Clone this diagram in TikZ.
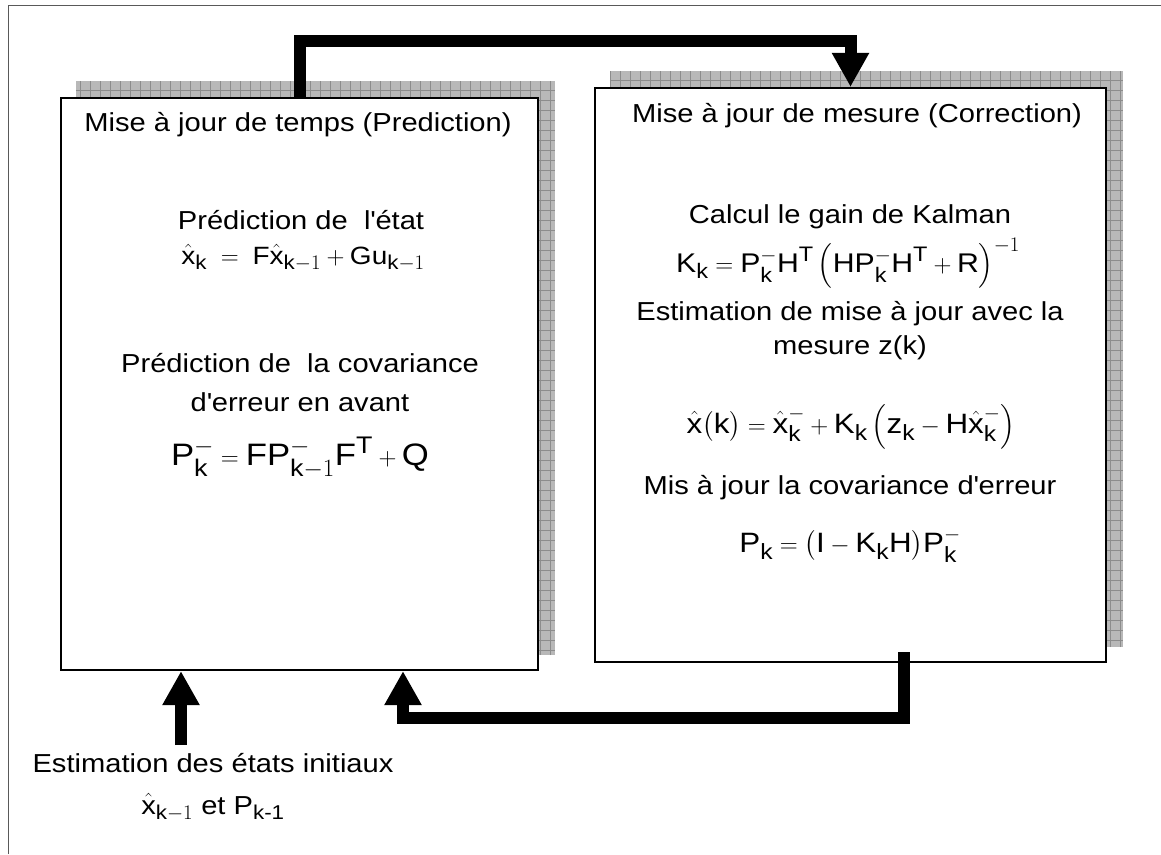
\documentclass[tikz,border=0pt]{standalone}
\usepackage{amsmath}
\usepackage{fontspec}
\setmainfont{Liberation Sans}[FakeStretch=1.12]
\usetikzlibrary{arrows.meta}
\newcommand\sv[1]{\text{#1}}
\newcommand\ap{\textquotesingle}
% larger sub- and superscripts in the formulas
\DeclareMathSizes{24}{24}{19}{15}
\DeclareMathSizes{25}{25}{20}{16}
\DeclareMathSizes{26}{26}{20}{16}
\DeclareMathSizes{27}{27}{21}{17}
\DeclareMathSizes{28}{28}{22}{17}
\DeclareMathSizes{31}{31}{24}{19}

\tikzset{
  frame/.style={draw=black!65, line width=1pt},
  box/.style={draw=black, line width=2.2pt, fill=white, inner sep=0pt},
  shadowfill/.style={fill=black!28},
  shadowgrid/.style={draw=black!45, line width=0.8pt},
  flow/.style={line width=12pt, draw=black, line join=miter,
    -{Triangle[width=35pt,length=34pt]}},
  lbl/.style={anchor=base, inner sep=0pt, font=\fontsize{26}{30}\selectfont},
  eqn/.style={anchor=base, inner sep=0pt, font=\fontsize{#1}{#1}\selectfont},
  eqn/.default=26
}

\begin{document}
\begin{tikzpicture}[x=1pt, y=-1pt]
\useasboundingbox (0,0) rectangle (1161,854);

% page frame (only its left and top sides fall inside the picture)
\draw[frame] (8,854) -- (8,5) -- (1161,5);

% the two update boxes
\path (299.5,384) node[box, minimum width=477pt, minimum height=572pt, draw=none, fill=none] (pred) {};
\path (850.5,375) node[box, minimum width=511pt, minimum height=574pt, draw=none, fill=none] (corr) {};

% textured drop shadows
\foreach \b in {pred, corr} {
  \begin{scope}
    \clip ([shift={(16,-16)}]\b.south west) rectangle ([shift={(16,-16)}]\b.north east);
    \fill[shadowfill] ([shift={(16,-16)}]\b.south west) rectangle ([shift={(16,-16)}]\b.north east);
    \draw[shadowgrid] ([shift={(16,-16)}]\b.south west) grid[step=10pt] ([shift={(16,-16)}]\b.north east);
  \end{scope}
}

% box frames over the shadows
\node[box, minimum width=477pt, minimum height=572pt] at (pred) {};
\node[box, minimum width=511pt, minimum height=574pt] at (corr) {};

% prediction step
\node[lbl] (tA) at (298,131) {Mise à jour de temps (Prediction)};
\node[lbl] (tB) at (301,229) {Prédiction de\ \ l\ap état};
\node[eqn=25] (eqA) at (303,264)
  {$\hat{\sv{x}}_{\sv{k}} \;=\; \sv{F}\hat{\sv{x}}_{\sv{k}-1} + \sv{Gu}_{\sv{k}-1}$};
\node[lbl] (tC) at (300,372) {Prédiction de\ \ la covariance};
\node[lbl] (tD) at (300,411) {d\ap erreur en avant};
\node[eqn=31] (eqB) at (300,465)
  {$\sv{P}_{\sv{k}}^{-} = \sv{FP}_{\sv{k}-1}^{-}\sv{F}^{\sv{T}} + \sv{Q}$};

% correction step
\node[lbl] (tE) at (857,122) {Mise à jour de mesure (Correction)};
\node[lbl] (tF) at (850,223) {Calcul le gain de Kalman};
\node[eqn=27] (eqC) at (848,272)
  {$\sv{K}_{\sv{k}} = \sv{P}_{\sv{k}}^{-}\sv{H}^{\sv{T}}\left(\sv{HP}_{\sv{k}}^{-}\sv{H}^{\sv{T}} + \sv{R}\right)^{-1}$};
\node[lbl] (tG) at (850,320) {Estimation de mise à jour avec la};
\node[lbl] (tH) at (850,354) {mesure z(k)};
\node[eqn=28] (eqD) at (851,433)
  {$\hat{\sv{x}}\bigl(\sv{k}\bigr) = \hat{\sv{x}}_{\sv{k}}^{-} + \sv{K}_{\sv{k}}\left(\sv{z}_{\sv{k}} - \sv{H}\hat{\sv{x}}_{\sv{k}}^{-}\right)$};
\node[lbl] (tI) at (850,494) {Mis à jour la covariance d\ap erreur};
\node[eqn=28] (eqE) at (850,552)
  {$\sv{P}_{\sv{k}} = \bigl(\sv{I} - \sv{K}_{\sv{k}}\sv{H}\bigr)\sv{P}_{\sv{k}}^{-}$};

% initial estimate
\node[lbl] (tJ) at (213,772) {Estimation des états initiaux};
\node[eqn=26] (eqF) at (213,814)
  {$\hat{\sv{x}}_{\sv{k}-1}$ et $\sv{P}_{\sv{k-1}}$};

% connectors
\coordinate (topbar) at (575,40.5);
\coordinate (botbar) at (650,717.5);
\coordinate (initarrow) at (181,745);
\draw[flow] (pred.north) |- (topbar) -| (corr.north);
\draw[flow] ([xshift=53.5pt, yshift=11pt]corr.south) |- (botbar) -| ([xshift=103.5pt]pred.south);
\draw[flow] (initarrow) -- ([xshift=-118.5pt]pred.south);
\end{tikzpicture}
\end{document}
